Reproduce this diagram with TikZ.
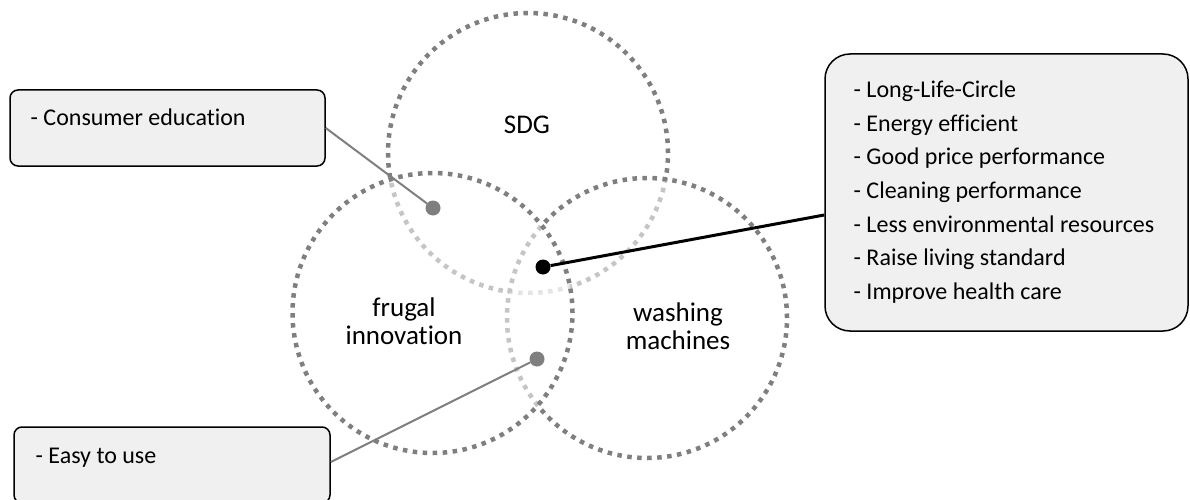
\documentclass[tikz,border=0pt]{standalone}
\usepackage{fontspec}
\setmainfont{Carlito}[Ligatures=NoCommon]
\definecolor{boxfill}{RGB}{240,240,240}
\definecolor{vgray}{RGB}{127,127,127}
\begin{document}
\begin{tikzpicture}[x=1pt,y=-1pt,
  venn/.style={circle, draw=vgray, line width=4.5pt, dash pattern=on 4.5pt off 5.5pt,
    fill=white, fill opacity=0.55, draw opacity=1, minimum size=280pt, inner sep=0pt},
  infobox/.style={draw=black, line width=1.5pt, fill=boxfill, rounded corners=8pt, inner sep=0pt},
  btext/.style={font=\fontsize{24}{33.7}\selectfont, inner sep=0pt, align=left},
  ctext/.style={font=\fontsize{27}{28}\selectfont, inner sep=0pt, align=center},
  graydot/.style={circle, fill=vgray, inner sep=0pt, minimum size=15pt},
  blackdot/.style={circle, fill=black, inner sep=0pt, minimum size=15pt},
  grayline/.style={draw=vgray, line width=2pt},
  blackline/.style={draw=black, line width=3pt}]
\useasboundingbox (0,0) rectangle (1190,500);
\clip (0,0) rectangle (1190,500);
% circles
\node[venn] (sdg) at (528,153) {};
\node[venn] (wash) at (647,318) {};
\node[venn] (frug) at (432.5,313) {};
% labels
\node[ctext] (lsdg) at (527,125) {SDG};
\node[ctext, anchor=base] (lfrug) at (404,344) {frugal\\innovation};
\node[ctext, anchor=base] (lwash) at (678,349) {washing\\machines};
% boxes
\node[infobox, minimum width=315pt, minimum height=76pt] (cons) at (167.5,128) {};
\node[infobox, minimum width=316pt, minimum height=76pt] (easy) at (172,465) {};
\node[infobox, rounded corners=25pt, minimum width=363pt, minimum height=277pt] (rbox) at (1006.5,192.5) {};
\node[btext, anchor=base west] (tcons) at (30.5,125.7) {- Consumer education};
\node[btext, anchor=base west] (teasy) at (35.5,463) {- Easy to use};
\node[btext, anchor=base west] (trbox) at (853.5,299.5) {- Long-Life-Circle\\- Energy efficient\\- Good price performance\\- Cleaning performance\\- Less environmental resources\\- Raise living standard\\- Improve health care};
% dots and connectors
\node[graydot] (d1) at (433,208) {};
\node[blackdot] (d2) at (543,267) {};
\node[graydot] (d3) at (537,359) {};
\draw[grayline] (cons.east) -- (d1);
\draw[blackline] ([yshift=-22.5pt]rbox.west) -- (d2);
\draw[grayline] ([yshift=3pt]easy.east) -- (d3);
\end{tikzpicture}
\end{document}
